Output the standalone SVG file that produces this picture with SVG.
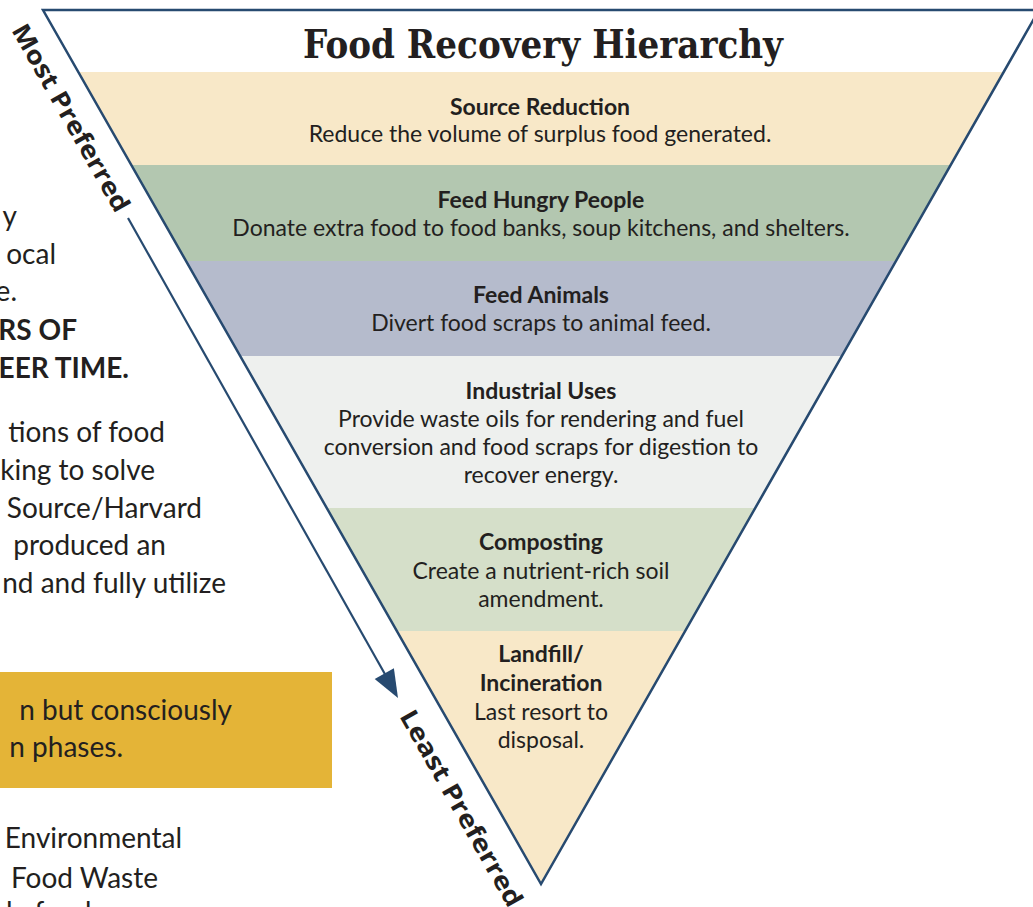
<svg xmlns="http://www.w3.org/2000/svg" width="1033" height="907" viewBox="0 0 1033 907">
  <defs>
    <clipPath id="tri">
      <polygon points="43,10 1039,10 541,884"/>
    </clipPath>
    <style>
      .t{font-family:Lato,"Open Sans","Liberation Sans",sans-serif;fill:#231f20;}
      .h{font-size:23px;font-weight:700;text-anchor:middle;}
      .b{font-size:23px;font-weight:400;text-anchor:middle;}
      .side{font-size:28px;text-anchor:end;}
      .sideb{font-size:28px;font-weight:700;text-anchor:end;}
      .lab{font-family:"Open Sans",Lato,"Liberation Sans",sans-serif;font-size:25px;font-weight:700;fill:#231f20;}
      .title{font-family:"DejaVu Serif","Liberation Serif",serif;font-size:40px;font-weight:700;fill:#231f20;text-anchor:middle;}
      .edge{fill:none;stroke:#274a70;stroke-width:2.5;stroke-linejoin:miter;}
    </style>
  </defs>
  <rect width="1033" height="907" fill="#ffffff"/>

  <g id="side-text">
    <text class="t side" x="17" y="226">y</text>
    <text class="t side" x="56" y="264">ocal</text>
    <text class="t side" x="17" y="301">e.</text>
    <text class="t sideb" x="77" y="340">RS OF</text>
    <text class="t sideb" x="129" y="378">EER TIME.</text>
    <text class="t side" x="165" y="442">tions of food</text>
    <text class="t side" x="155" y="480">king to solve</text>
    <text class="t side" x="202" y="518">Source/Harvard</text>
    <text class="t side" x="166" y="555">produced an</text>
    <text class="t side" x="226" y="593">nd and fully utilize</text>
  </g>

  <g id="callout">
    <rect x="-2" y="672" width="334" height="116" fill="#e4b437"/>
    <text class="t side" x="232" y="720">n but consciously</text>
    <text class="t side" x="123" y="757">n phases.</text>
  </g>

  <g id="footer-text">
    <text class="t side" x="182" y="848">Environmental</text>
    <text class="t side" x="158" y="888">Food Waste</text>
    <text class="t" x="6" y="922" font-size="28">le food</text>
  </g>

  <g id="bands" clip-path="url(#tri)">
    <g id="source-reduction">
      <rect x="0" y="72" width="1040" height="93" fill="#f8e8c8"/>
      <text class="t h" x="540" y="115">Source Reduction</text>
      <text class="t b" x="540" y="142">Reduce the volume of surplus food generated.</text>
    </g>
    <g id="feed-hungry-people">
      <rect x="0" y="165" width="1040" height="96" fill="#b3c7b0"/>
      <text class="t h" x="541" y="208">Feed Hungry People</text>
      <text class="t b" x="541" y="236">Donate extra food to food banks, soup kitchens, and shelters.</text>
    </g>
    <g id="feed-animals">
      <rect x="0" y="261" width="1040" height="95" fill="#b5bbcc"/>
      <text class="t h" x="541" y="303">Feed Animals</text>
      <text class="t b" x="541" y="331">Divert food scraps to animal feed.</text>
    </g>
    <g id="industrial-uses">
      <rect x="0" y="356" width="1040" height="152" fill="#eef0ee"/>
      <text class="t h" x="541" y="399">Industrial Uses</text>
      <text class="t b" x="541" y="427">Provide waste oils for rendering and fuel</text>
      <text class="t b" x="541" y="455">conversion and food scraps for digestion to</text>
      <text class="t b" x="541" y="483">recover energy.</text>
    </g>
    <g id="composting">
      <rect x="0" y="508" width="1040" height="123" fill="#d5dfc9"/>
      <text class="t h" x="541" y="550">Composting</text>
      <text class="t b" x="541" y="579">Create a nutrient-rich soil</text>
      <text class="t b" x="541" y="607">amendment.</text>
    </g>
    <g id="landfill-incineration">
      <rect x="0" y="631" width="1040" height="260" fill="#f8e8c8"/>
      <text class="t h" x="541" y="662">Landfill/</text>
      <text class="t h" x="541" y="691">Incineration</text>
      <text class="t b" x="541" y="720">Last resort to</text>
      <text class="t b" x="541" y="748">disposal.</text>
    </g>
  </g>

  <g id="hierarchy-frame">
    <polygon class="edge" points="43,10 1039,10 541,884"/>
    <text class="title" x="543" y="58" textLength="480" lengthAdjust="spacingAndGlyphs">Food Recovery Hierarchy</text>
  </g>

  <g id="most-preferred">
    <text class="lab" transform="translate(11,30) rotate(60.4)" textLength="212" lengthAdjust="spacingAndGlyphs">Most Preferred</text>
  </g>
  <g id="least-preferred">
    <text class="lab" transform="translate(399,716) rotate(60.4)" textLength="222" lengthAdjust="spacingAndGlyphs">Least Preferred</text>
  </g>

  <g id="connectors">
    <line x1="128" y1="218" x2="386" y2="676" stroke="#274a70" stroke-width="2.2"/>
    <polygon points="398,698 374.7,679 393.9,668.2" fill="#274a70"/>
  </g>
</svg>
